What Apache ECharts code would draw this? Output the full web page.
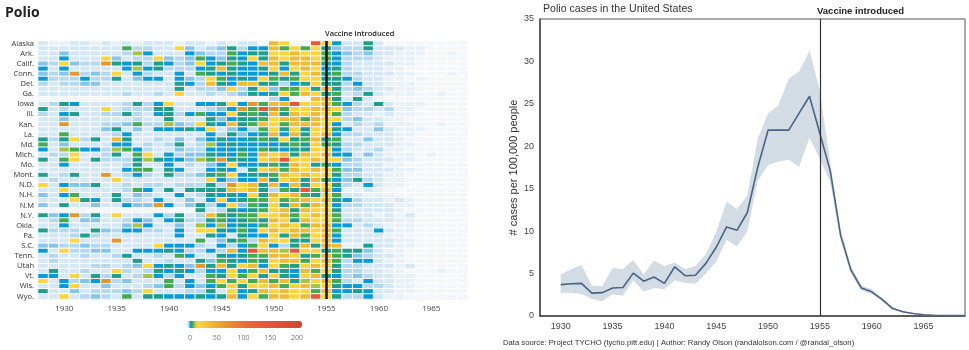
<!DOCTYPE html>
<html>
<head>
<meta charset="utf-8">
<script src="https://cdn.jsdelivr.net/npm/echarts@6/dist/echarts.min.js"></script>
<style>
  html, body { margin: 0; padding: 0; background: #fff; }
  #chart { width: 969px; height: 350px; }
</style>
</head>
<body>
<div id="chart"></div>
<script>
// ---- left panel: state x year heatmap ----
const states = ["Alaska", "Ala.", "Ark.", "Ariz.", "Calif.", "Colo.", "Conn.", "D.C.", "Del.", "Fla.", "Ga.", "Hawaii",
  "Iowa", "Idaho", "Ill.", "Ind.", "Kan.", "Ky.", "La.", "Mass.", "Md.", "Maine", "Mich.", "Minn.", "Mo.", "Miss.",
  "Mont.", "N.C.", "N.D.", "Neb.", "N.H.", "N.J.", "N.M", "Nev.", "N.Y.", "Ohio", "Okla.", "Ore.", "Pa.", "R.I.",
  "S.C.", "S.D.", "Tenn.", "Texas", "Utah", "Va.", "Vt.", "Wash.", "Wis.", "W.Va.", "Wyo."];

const heatYears = ["1928", "1929", "1930", "1931", "1932", "1933", "1934", "1935", "1936", "1937", "1938", "1939",
  "1940", "1941", "1942", "1943", "1944", "1945", "1946", "1947", "1948", "1949", "1950", "1951", "1952", "1953",
  "1954", "1955", "1956", "1957", "1958", "1959", "1960", "1961", "1962", "1963", "1964", "1965", "1966", "1967", "1968"];

const levelValue = { ".": 0, "0": 1, "1": 2, "2": 3, "3": 4, "4": 5.5, "5": 7.5, "6": 10, "7": 13, "8": 20, "9": 40, "a": 70, "b": 140 };

const caseRows = [
  "100110101011101101011" + ".98..b841151........",
  "111111116221183123524" + "4968685322511100....",
  "113111112741114322645" + "5889886432311000..0.",
  "114111831228323643548" + "598998642221000.....",
  "328322a54525423845654" + "995999542111100.....",
  "414111114745222459544" + "58489845211100......",
  "323a23281421141654544" + "459589562211100...0.",
  "422242251344143286454" + "86568855421100.0....",
  "212233111111154295499" + "552458552411000.....",
  "111111111111151223825" + "836685952321100.....",
  "111111112112181121235" + "458698561251000..0..",
  "....................." + ".24..995151.........",
  "12541111252481144584a" + "699b889642151000....",
  "5121118122255111234a6" + "ba6889983221200.....",
  "214511225214524644856" + "595989862110100.....",
  "113111111211511153455" + "68996988231100......",
  "11a111223622732854956" + "986999841212000..0..",
  "111111351314445481342" + "6858588541131000....",
  "116111124111111142534" + "594958942211100.....",
  "525825195112131345445" + "65856956113110......",
  "613111144121251274544" + "445658652211100.....",
  "417644276421132244454" + "65455884211200......",
  "122811251681423354464" + "989598944131000.0...",
  "51681522257544376a554" + "89b889883211100.....",
  "114111112511412134844" + "56598564221100......",
  "111111114661541145415" + "896989863311100.....",
  "512511a12421522356845" + "56989885221100......",
  "121111181111111184344" + "95895964352100......",
  "814335112122122252a89" + "59495885214100......",
  "118111112641515555989" + "5265b6940010........",
  "314611151321141254548" + "5989658611000.......",
  "111854152214113148456" + "686798954211010.....",
  "31511311433a413524836" + "585969842211100.....",
  "...............512545" + "68959885111110......",
  "534a25181114251296566" + "889689861110101.....",
  "126133112431452256456" + "598598862211100.....",
  "114111113741131747454" + "689869944121000.....",
  "522215324422141885464" + "898998961114100.....",
  "111252111111141154154" + "48596894111100......",
  "1118111a1111111613562" + "988558941111100.....",
  "332232211118444214246" + "842595990051100.....",
  "41822331144454224294b" + "997b8856553100......",
  "121121125112164115456" + "69985696532110......",
  "121111111511211536546" + "58996896244100......",
  "111112212384543a59589" + "486589852211101.....",
  "151121182125454244846" + "95549685221100...0..",
  "441815251274241165868" + "585489542321100.....",
  "814234a23111614168686" + "969578962141100.....",
  "114811311123624346858" + "896897854422100.....",
  "511312223281112251845" + "989886944541100.....",
  "118123216155444545948" + "69989b85224100......"
];

const legendTicks = [0, 50, 100, 150, 200];

// ---- right panel: national rate with confidence band ----
const usAxisYears = ["1928", "1929", "1930", "1931", "1932", "1933", "1934", "1935", "1936", "1937", "1938",
  "1939", "1940", "1941", "1942", "1943", "1944", "1945", "1946", "1947", "1948", "1949", "1950", "1951", "1952",
  "1953", "1954", "1955", "1956", "1957", "1958", "1959", "1960", "1961", "1962", "1963", "1964", "1965", "1966",
  "1967", "1968", "1969"];
// no national figure before 1930
const usRate = [null, null, 3.7, 3.8, 3.85, 2.7, 2.75, 3.3, 3.35, 5.05, 4.1, 4.6, 3.85, 5.8, 4.75, 4.8, 6.2,
  8.1, 10.5, 10.1, 12.2, 17.5, 21.9, 21.9, 21.9, 23.9, 25.9, 21.5, 17.1, 9.5, 5.4, 3.3, 2.85, 1.95,
  0.9, 0.5, 0.3, 0.15, 0.08, 0.06, 0.05, 0.04];
const usLow = [null, null, 2.75, 2.7, 2.6, 2.0, 1.75, 2.55, 2.4, 4.2, 2.9, 3.3, 3.15, 4.2, 3.9, 3.8, 5.0,
  6.4, 9.0, 8.2, 10.0, 15.9, 17.8, 18.2, 18.4, 17.6, 21.0, 18.5, 15.8, 8.9, 5.0, 3.0, 2.6, 1.75,
  0.78, 0.42, 0.24, 0.11, 0.06, 0.04, 0.03, 0.02];
const usHigh = [null, null, 4.9, 5.5, 6.0, 3.6, 3.5, 5.65, 5.5, 6.6, 4.9, 6.55, 5.9, 6.3, 5.5, 5.9, 7.3,
  9.9, 13.5, 12.6, 14.2, 20.9, 23.9, 24.8, 28.0, 28.8, 31.3, 26.5, 18.0, 10.2, 5.9, 3.6, 3.15, 2.15,
  1.02, 0.58, 0.34, 0.19, 0.1, 0.08, 0.07, 0.06];

// colour ramp (value -> colour), sampled into a dense list for the visualMap
const colorStops = [[0, "#f4f6f9"], [1, "#e8f0fa"], [2, "#d4e7f7"], [3, "#b4d8f2"], [4, "#86c4ec"],
  [5.5, "#0a9ad9"], [7.5, "#1f9e8c"], [10, "#43ac52"], [13, "#a6c346"], [18, "#fdd63d"], [30, "#f4ca3a"],
  [45, "#edb436"], [70, "#e4972b"], [100, "#ea6a35"], [140, "#e8553a"], [200, "#cf472f"]];

function hexToRgb(h) {
  return [parseInt(h.slice(1, 3), 16), parseInt(h.slice(3, 5), 16), parseInt(h.slice(5, 7), 16)];
}
function colorAt(v) {
  for (let i = 0; i < colorStops.length - 1; i++) {
    const [v0, c0] = colorStops[i];
    const [v1, c1] = colorStops[i + 1];
    if (v >= v0 && v <= v1) {
      const t = (v - v0) / (v1 - v0);
      const a = hexToRgb(c0), b = hexToRgb(c1);
      return "rgb(" + a.map((x, k) => Math.round(x + (b[k] - x) * t)).join(",") + ")";
    }
  }
  return colorStops[colorStops.length - 1][1];
}
const palette = [];
for (let v = 0; v <= 200; v += 0.5) palette.push(colorAt(v));

const heatData = [];
caseRows.forEach((row, r) => {
  row.split("").forEach((ch, c) => heatData.push([c, r, levelValue[ch]]));
});

const bandSpread = usHigh.map((h, i) => (h == null ? null : +(h - usLow[i]).toFixed(2)));
const every5 = (i, v) => +v % 5 === 0;

const chart = echarts.init(document.getElementById("chart"));

chart.setOption({
  animation: false,
  textStyle: { fontFamily: "Open Sans" },
  grid: [
    { left: 38, top: 41, width: 430, height: 258 },
    { left: 540, top: 19, width: 425, height: 297, show: true, borderColor: "#555", borderWidth: 1 },
    { left: 190, top: 329, width: 107, height: 1 }
  ],
  xAxis: [
    {
      type: "category", gridIndex: 0, data: heatYears,
      axisLine: { lineStyle: { color: "#c8c8c8" } },
      axisTick: { alignWithLabel: true, length: 3, lineStyle: { color: "#c8c8c8" }, interval: every5 },
      axisLabel: { interval: every5, fontSize: 8, color: "#444", margin: 6, fontFamily: "Open Sans" },
      splitLine: { show: false }
    },
    {
      type: "category", gridIndex: 1, data: usAxisYears, boundaryGap: false,
      axisLine: { lineStyle: { color: "#444", width: 1.5 } },
      axisTick: { show: false },
      splitLine: { show: false },
      axisLabel: { interval: every5, fontSize: 9, color: "#444", margin: 6, fontFamily: "Liberation Sans" }
    },
    {
      type: "value", gridIndex: 2, min: 0, max: 200,
      axisLine: { show: false }, axisTick: { show: false }, splitLine: { show: false },
      axisLabel: { customValues: legendTicks, fontSize: 7, color: "#777", margin: 4, fontFamily: "Open Sans" }
    }
  ],
  yAxis: [
    {
      type: "category", gridIndex: 0, data: states, inverse: true,
      axisLine: { show: false }, axisTick: { show: false }, splitLine: { show: false },
      axisLabel: { interval: 1, fontSize: 7.5, color: "#333", margin: 4, fontFamily: "Open Sans" }
    },
    {
      type: "value", gridIndex: 1, min: 0, max: 35, interval: 5,
      axisLine: { show: true, lineStyle: { color: "#444", width: 1.5 } },
      axisTick: { show: false }, splitLine: { show: false },
      axisLabel: { fontSize: 9, color: "#444", margin: 6, fontFamily: "Liberation Sans" },
      name: "# cases per 100,000 people", nameLocation: "middle", nameGap: 21,
      nameTextStyle: { fontSize: 11, color: "#333", fontFamily: "Liberation Sans" }
    },
    { type: "value", gridIndex: 2, show: false }
  ],
  visualMap: {
    type: "continuous", seriesIndex: 0, min: 0, max: 200,
    orient: "horizontal", left: 187, top: 321, itemWidth: 7, itemHeight: 115,
    padding: 0, calculable: false, text: null, showLabel: false,
    inRange: { color: palette }
  },
  graphic: [
    { type: "text", left: 5, top: 6, style: { text: "Polio", fontSize: 14, fontWeight: "bold", fill: "#222", fontFamily: "Open Sans" } },
    { type: "text", left: 325, top: 30, style: { text: "Vaccine introduced", fontSize: 7.5, fontWeight: 600, fill: "#222", fontFamily: "Open Sans" } },
    { type: "text", left: 543, top: 4, style: { text: "Polio cases in the United States", fontSize: 10.6, fill: "#333", fontFamily: "Liberation Sans" } },
    { type: "text", left: 817, top: 6, style: { text: "Vaccine introduced", fontSize: 9.5, fontWeight: "bold", fill: "#222", fontFamily: "Liberation Sans" } },
    { type: "text", left: 503, top: 339, style: { text: "Data source: Project TYCHO (tycho.pitt.edu) | Author: Randy Olson (randalolson.com / @randal_olson)", fontSize: 7.7, fill: "#333", fontFamily: "Liberation Sans" } }
  ],
  series: [
    {
      type: "heatmap", xAxisIndex: 0, yAxisIndex: 0, data: heatData,
      itemStyle: { borderColor: "#fff", borderWidth: 1 },
      emphasis: { disabled: true },
      progressive: 0,
      markLine: {
        silent: true, symbol: "none", label: { show: false },
        lineStyle: { color: "#111", width: 2.5, type: "solid" },
        data: [{ xAxis: "1955" }]
      }
    },
    {
      type: "line", xAxisIndex: 1, yAxisIndex: 1, data: usLow, stack: "ci",
      symbol: "none", silent: true, lineStyle: { opacity: 0 }
    },
    {
      type: "line", xAxisIndex: 1, yAxisIndex: 1, data: bandSpread, stack: "ci",
      symbol: "none", silent: true, lineStyle: { opacity: 0 },
      areaStyle: { color: "#d3dbe5", opacity: 1 }
    },
    {
      type: "line", xAxisIndex: 1, yAxisIndex: 1, data: usRate,
      symbol: "none", lineStyle: { color: "#4a6584", width: 1.6 },
      markLine: {
        silent: true, symbol: "none", label: { show: false },
        lineStyle: { color: "#333", width: 1.2, type: "solid" },
        data: [{ xAxis: "1955" }]
      }
    }
  ]
});
</script>
</body>
</html>
